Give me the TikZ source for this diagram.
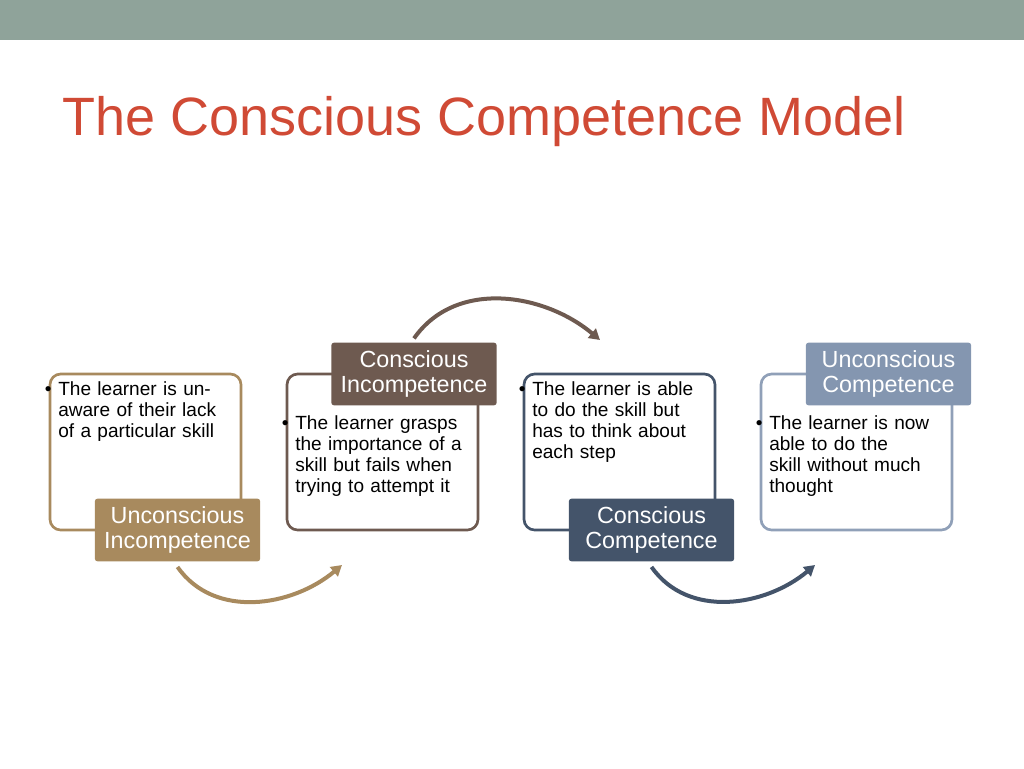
\documentclass[tikz,border=0pt]{standalone}
\usepackage{fontspec}
\setmainfont{Liberation Sans}
\usetikzlibrary{arrows.meta}
\definecolor{barcol}{HTML}{8FA39A}
\definecolor{titlecol}{HTML}{D04A35}
\definecolor{tancol}{HTML}{A88A5E}
\definecolor{browncol}{HTML}{6E5A50}
\definecolor{slatecol}{HTML}{44546A}
\definecolor{lightcol}{HTML}{8496B0}
\newcommand{\bul}[1]{\leftskip=10pt\hyphenpenalty=10000\noindent\hspace*{-10pt}\makebox[10pt][l]{\textbullet}#1}
\begin{document}
\begin{tikzpicture}[x=0.75pt,y=-0.75pt,
  frame/.style ={draw, line width=2pt, rounded corners=8pt, fill=white},
  stage/.style ={rounded corners=2pt, text=white, font=\fontsize{17.5}{19}\selectfont, align=center, inner sep=0pt, minimum width=124pt, minimum height=47pt},
  info/.style ={anchor=north west, inner sep=0pt, text width=134pt, align=left, font=\fontsize{14.3}{15.8}\selectfont},
  swing/.style ={line width=3pt, -{Triangle[length=8pt,width=9pt]}}]
 \useasboundingbox (0,0) rectangle (1024,768);
 \fill[barcol] (0,0) rectangle (1024,40);
 \node[anchor=base west, inner sep=0pt, text=titlecol, font=\fontsize{40.5}{48}\selectfont] (title) at (62,135) {The Conscious Competence Model};
 % frames
 \draw[frame, draw=tancol] (50,374) rectangle (241,530);
 \draw[frame, draw=browncol] (287,374) rectangle (478,530);
 \draw[frame, draw=slatecol] (524,374) rectangle (715,530);
 \draw[frame, draw=lightcol!90!white] (761,374) rectangle (952,530);
 % texts
 \node[info] (t1) at (58,381) {\bul{The learner is unaware of their lack of a particular skill}};
 \node[info] (t2) at (295,415) {\bul{The learner grasps the importance of a skill but fails when trying to attempt it}};
 \node[info] (t3) at (532,381) {\bul{The learner is able to do the skill but has to think about each step}};
 \node[info] (t4) at (769,415) {\bul{The learner is now able to do the skill without much thought}};
 % stages
 \node[stage, fill=tancol] (S1) at (177.5,530) {Unconscious\\Incompetence};
 \node[stage, fill=browncol] (S2) at (414,374) {Conscious\\Incompetence};
 \node[stage, fill=slatecol] (S3) at (651.5,530) {Conscious\\Competence};
 \node[stage, fill=lightcol] (S4) at (888.5,374) {Unconscious\\Competence};
 % swings
 \coordinate (e1) at (342,565);
 \coordinate (e2) at (600,340);
 \coordinate (e3) at (815,565);
 \draw[swing, draw=tancol] ([yshift=-4pt]S1.south) to[out=-55,in=-140] (e1);
 \draw[swing, draw=browncol] ([yshift=3pt]S2.north) to[out=55,in=140] (e2);
 \draw[swing, draw=slatecol] ([yshift=-4pt]S3.south) to[out=-55,in=-140] (e3);
\end{tikzpicture}
\end{document}
